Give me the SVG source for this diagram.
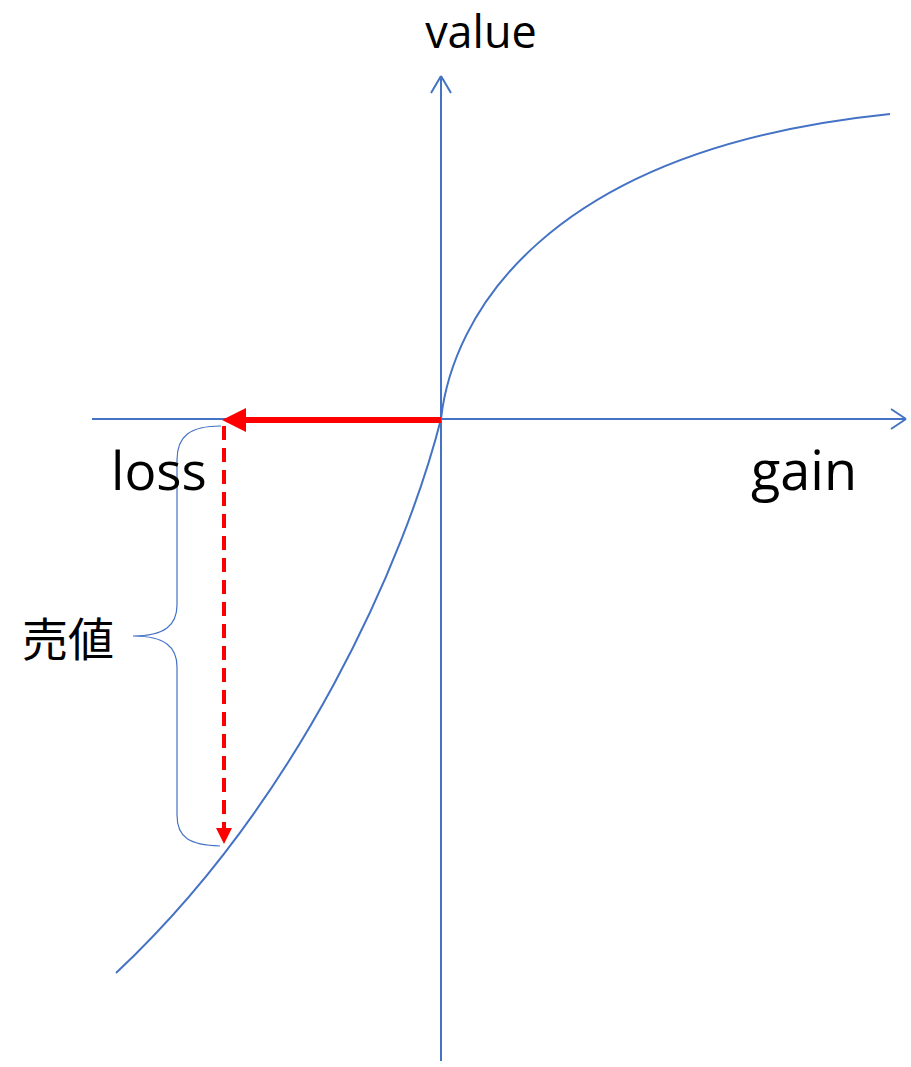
<svg xmlns="http://www.w3.org/2000/svg" width="911" height="1067" viewBox="0 0 911 1067">
<style>
.ax{stroke:#4472C4;stroke-width:2;fill:none}
.cv{stroke:#4472C4;stroke-width:2;fill:none}
.br{stroke:#4472C4;stroke-width:1.2;fill:none}
.t{font-family:"Open Sans","Noto Sans","Liberation Sans",sans-serif;fill:#000}
.j{font-family:"Noto Sans CJK JP",sans-serif;fill:#000}
</style>
<rect width="911" height="1067" fill="#fff"/>
<g id="connectors">
<path class="ax" d="M92,419 H906"/>
<path class="ax" d="M906,419 L891,409 M906,419 L891,429"/>
<path class="ax" d="M441,1061 V76"/>
<path class="ax" d="M441,76 L431,93 M441,76 L451,93"/>
<path id="gain-curve" class="cv" d="M441,419 C452,320 540,150 890,114"/>
<path id="loss-curve" class="cv" d="M441,419 C405,560 300,800 116,973"/>
<path class="br" d="M221,426 C190,426 177,436 177,460 V605 C177,625 165,636 133,636 C165,636 177,647 177,667 V815 C177,838 190,845 220,846"/>
<path d="M441,420 H244" stroke="#FF0000" stroke-width="6" fill="none"/>
<path d="M222,420 L246,408 L246,432 Z" fill="#FF0000"/>
<path d="M224,426 V828" stroke="#FF0000" stroke-width="4" stroke-dasharray="14,8" fill="none"/>
<path d="M224,844 L216,828 L232,828 Z" fill="#FF0000"/>
</g>
<g id="label-value"><text class="t" x="481" y="48" font-size="45" text-anchor="middle">value</text></g>
<g id="label-loss"><text class="t" x="111" y="490" font-size="53">loss</text></g>
<g id="label-gain"><text class="t" x="751" y="490" font-size="54">gain</text></g>
<g id="label-price"><text class="j" x="22" y="656" font-size="46">売値</text></g>
</svg>
